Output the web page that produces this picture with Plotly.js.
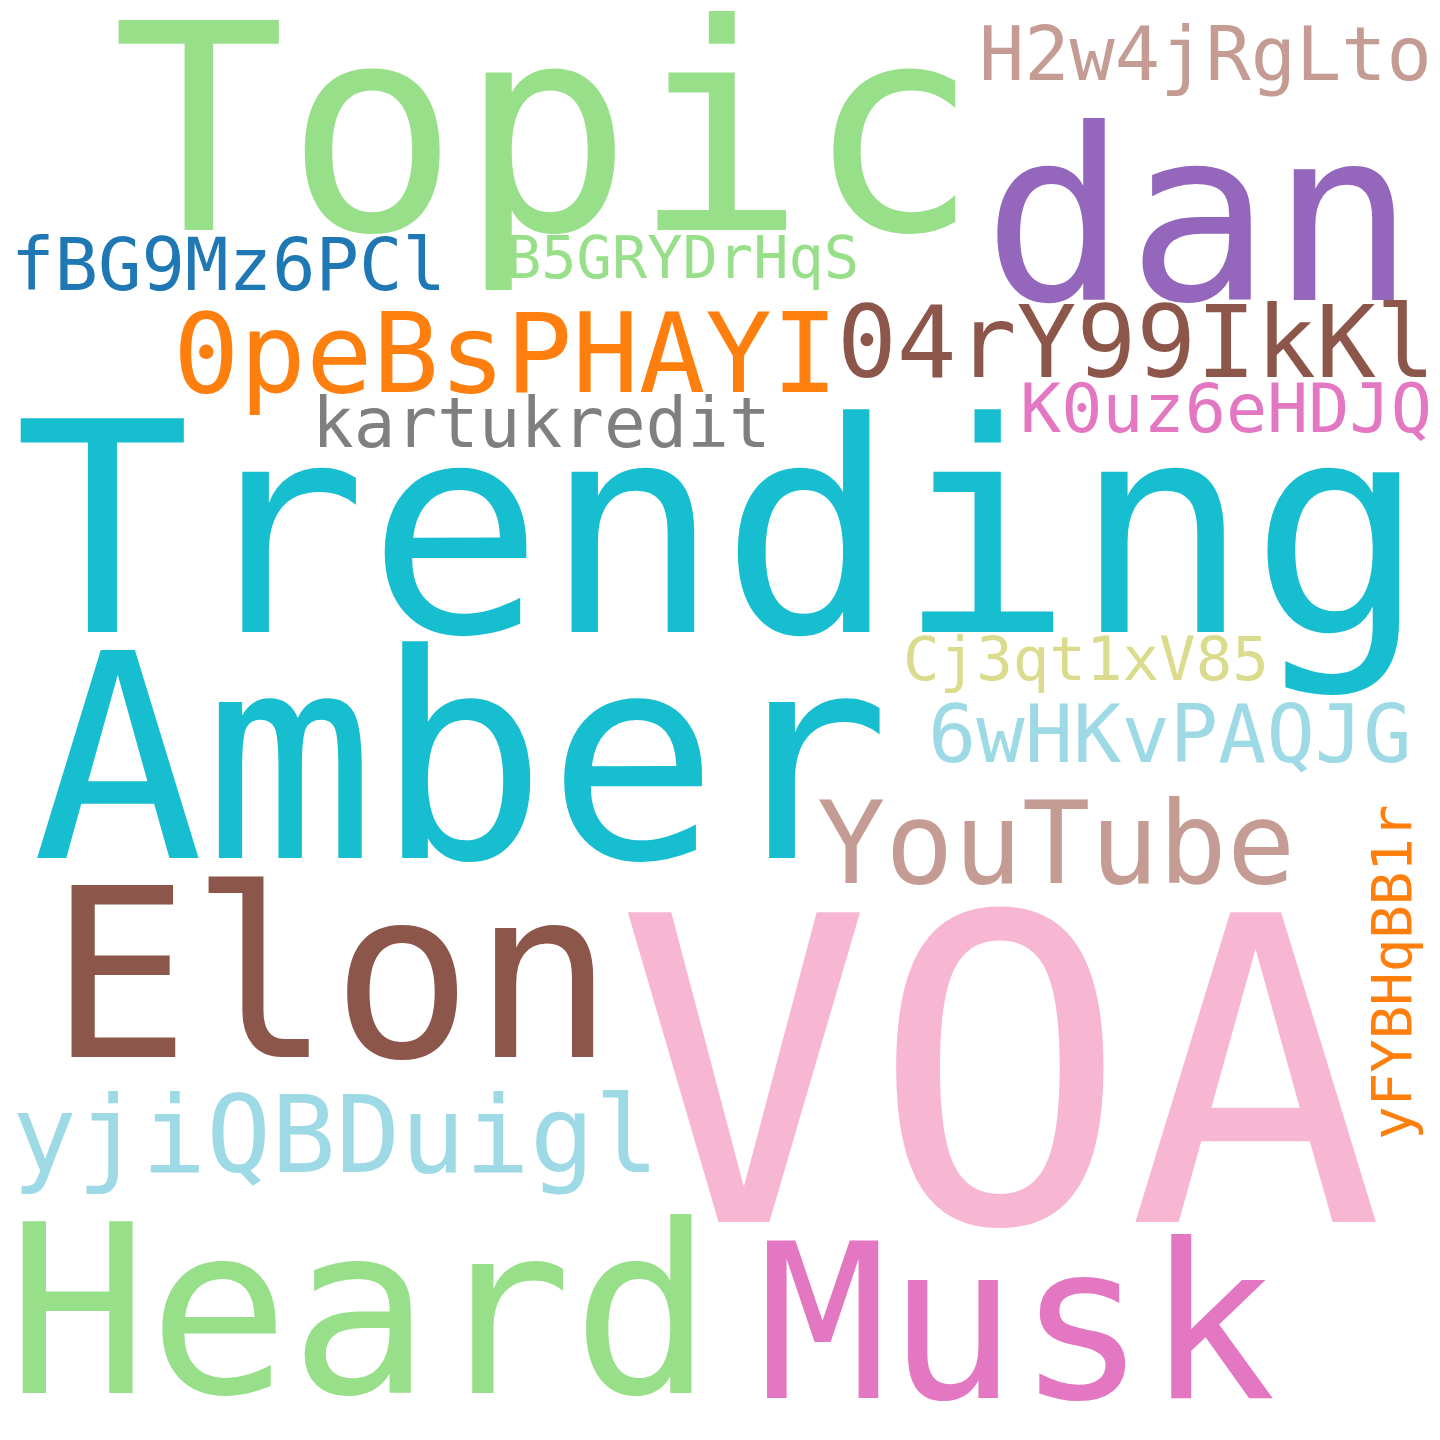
<!DOCTYPE html>
<html>
<head>
<meta charset="utf-8">
<script src="https://cdn.plot.ly/plotly-3.0.1.min.js"></script>
<style>html,body{margin:0;padding:0;background:#fff;}#chart{width:1440px;height:1440px;}</style>
</head>
<body>
<div id="chart"></div>
<script>
// ---- data: words and their relative weights (VOA = 1) ----
const words = ["VOA","Trending","Topic","Amber","dan","Elon","Heard","Musk","YouTube","0peBsPHAYI","yjiQBDuigl","04rY99IkKl","6wHKvPAQJG","H2w4jRgLto","fBG9Mz6PCl","kartukredit","K0uz6eHDJQ","Cj3qt1xV85","B5GRYDrHqS","yFYBHqBB1r"];
const weights = [1.00,0.690,0.678,0.671,0.563,0.552,0.552,0.506,0.267,0.260,0.253,0.234,0.189,0.177,0.170,0.163,0.161,0.143,0.138,0.131];

// ---- styling / layout of the cloud (not data) ----
const MAX_FONT = 425;
const colors = ["#f7b6d2","#17becf","#98df8a","#17becf","#9467bd","#8c564b","#98df8a","#e377c2","#c49c94","#ff7f0e","#9edae5","#8c564b","#9edae5","#c49c94","#1f77b4","#7f7f7f","#e377c2","#dbdb8d","#98df8a","#ff7f0e"];
// placement: [glyph centre x, baseline y (px), rotation]
const placement = [
  [1000,1222,0],[720,632,0],[545,230,0],[461,858,0],[1199,300,0],[331,1057,0],[360,1393,0],[1017,1398,0],
  [1056,883,0],[505,392,0],[335,1172,0],[1136,377,0],[1170,762,0],[1205,80,0],[228,290,0],[541,447,0],
  [1226,432,0],[1086,680,0],[682,278,0],[1410,972,-90]
];

const ASC = 0.928, DESC = 0.236; // DejaVu Sans Mono font metrics
const annotations = words.map((w,i)=>{
  const size = weights[i]*MAX_FONT;
  const [cx, base, rot] = placement[i];
  const off = (ASC - (ASC+DESC)/2)*size;
  let x = cx, y = base - off;
  if (rot === -90) { x = cx - off; y = base; }
  return {
    text: w, x: x, y: y, xref:'x', yref:'y', showarrow:false,
    xanchor:'center', yanchor:'middle', textangle: rot,
    font:{family:'DejaVu Sans Mono', size:size, color:colors[i]}
  };
});

Plotly.newPlot('chart', [], {
  width:1440, height:1440,
  margin:{l:0,r:0,t:0,b:0},
  paper_bgcolor:'#ffffff', plot_bgcolor:'#ffffff',
  xaxis:{range:[0,1440], visible:false, fixedrange:true},
  yaxis:{range:[1440,0], visible:false, fixedrange:true},
  annotations: annotations,
  showlegend:false
}, {staticPlot:true});
</script>
</body>
</html>
